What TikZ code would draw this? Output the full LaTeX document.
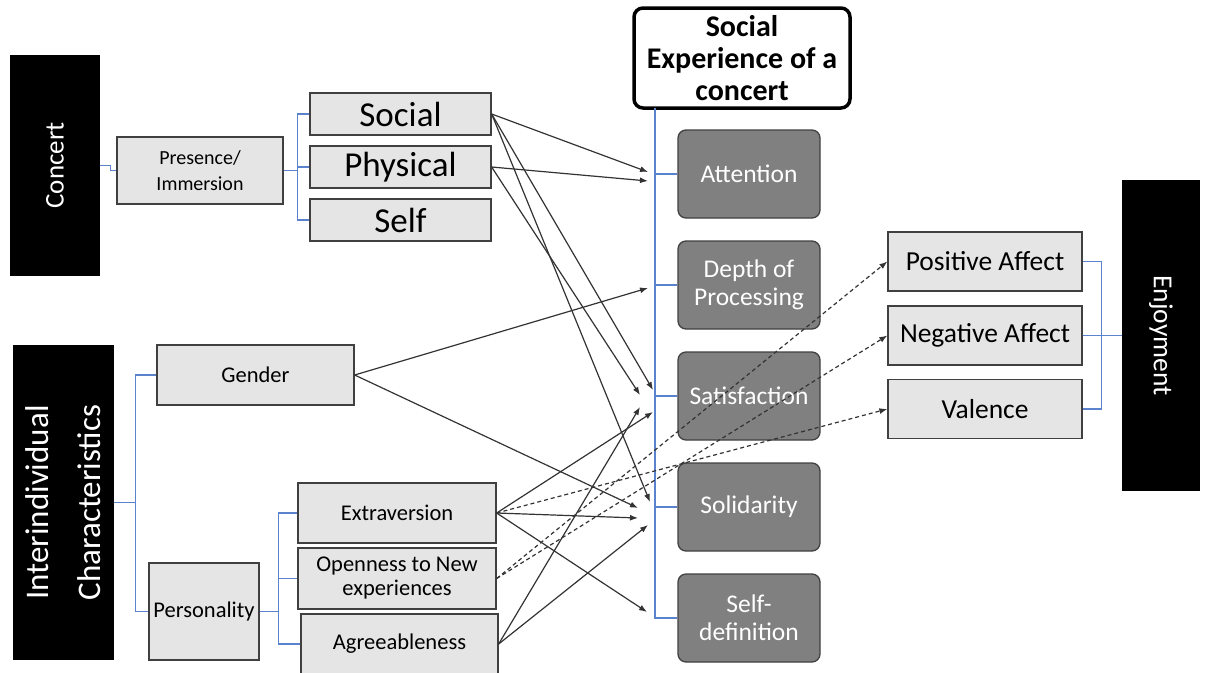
\documentclass[tikz,border=0pt]{standalone}
\usepackage{fontspec}
\setmainfont{Carlito}
\usetikzlibrary{arrows,arrows.meta,positioning,calc}
\definecolor{treeblue}{RGB}{90,130,205}

\begin{document}
\begin{tikzpicture}[x=1pt,y=-1pt]
        \tikzstyle{every node}=[inner sep=0pt,align=center,font=\fontsize{22.5}{24}\selectfont]
        \tikzstyle{lbox}=[draw=black!75,fill=black!10,line width=1.3pt]
        \tikzstyle{dbox}=[draw=black!75,fill=black!50,rounded corners=8pt,line width=1.3pt,text=white,minimum width=142,minimum height=88,font=\fontsize{25.5}{28}\selectfont]
        \tikzstyle{bbox}=[fill=black,text=white]
        \tikzstyle{tree}=[draw=treeblue,line width=1.3pt]
        \tikzstyle{arr}=[-{Latex[length=8pt,width=6pt]},draw=black!80,line width=1.2pt]
        \tikzstyle{darr}=[arr,dash pattern=on 4pt off 3pt]
        \clip (0,0) rectangle (1206,672);

        %%% Concert
        \node[bbox,rotate=90,minimum width=221,minimum height=90,font=\fontsize{27}{30}\selectfont] (concert) at (55,165.5) {Concert};
        \node[lbox,minimum width=166,minimum height=67,font=\fontsize{20}{26}\selectfont] (presence) at (200,170.5) {Presence/\\Immersion};
        \node[lbox,minimum width=181,minimum height=42,font=\fontsize{35}{36}\selectfont] (social) at (400.5,114) {Social};
        \node[lbox,minimum width=181,minimum height=42,font=\fontsize{35}{36}\selectfont] (physical) at (400.5,167) {Physical};
        \node[lbox,minimum width=181,minimum height=42,font=\fontsize{35}{36}\selectfont] (self) at (400.5,220) {Self};

        %%% Interindividual characteristics
        \node[bbox,rotate=90,minimum width=315,minimum height=101,font=\fontsize{33}{52}\selectfont] (inter) at (63.5,502.5) {Interindividual\\Characteristics};
        \node[lbox,minimum width=197,minimum height=60] (gender) at (255.5,375) {Gender};
        \node[lbox,minimum width=110,minimum height=97] (personality) at (204,611.5) {Personality};
        \node[lbox,minimum width=198,minimum height=60] (extra) at (397,513) {Extraversion};
        \node[lbox,minimum width=198,minimum height=61] (open) at (397,578.5) {Openness to New\\experiences};
        \node[lbox,minimum width=197,minimum height=60] (agree) at (399.5,644) {Agreeableness};

        %%% Social experience
        \node[draw=black,line width=3.5pt,rounded corners=9pt,fill=white,minimum width=216,minimum height=100,font=\bfseries\fontsize{30}{32}\selectfont] (title) at (742,58) {Social\\Experience of a\\concert};
        \node[dbox] (attention) at (749,174) {Attention};
        \node[dbox] (depth) at (749,285) {Depth of\\Processing};
        \node[dbox] (satisfaction) at (749,396) {Satisfaction};
        \node[dbox] (solidarity) at (749,507) {Solidarity};
        \node[dbox] (selfdef) at (749,618) {Self-\\definition};

        %%% Enjoyment
        \node[lbox,minimum width=194,minimum height=59,font=\fontsize{27.5}{30}\selectfont] (positive) at (985,261.5) {Positive Affect};
        \node[lbox,minimum width=194,minimum height=59,font=\fontsize{27.5}{30}\selectfont] (negative) at (985,335.5) {Negative Affect};
        \node[lbox,minimum width=194,minimum height=59,font=\fontsize{27.5}{30}\selectfont] (valence) at (985,409) {Valence};
        \node[bbox,rotate=-90,minimum width=311,minimum height=78,font=\fontsize{27.5}{30}\selectfont] (enjoy) at (1161,335.5) {Enjoyment};

        %%% blue tree lines
        \draw[tree] (concert.south) -- ++(10,0) |- (presence.west);
        \draw[tree] (presence.east) -- ++(14,0) |- (social.west);
        \draw[tree] (presence.east) -- ++(14,0) |- (physical.west);
        \draw[tree] (presence.east) -- ++(14,0) |- (self.west);
        \draw[tree] (inter.south) -- ++(21,0) |- (gender.west);
        \draw[tree] (inter.south) -- ++(21,0) |- (personality.west);
        \draw[tree] (personality.east) -- ++(19,0) |- (extra.west);
        \draw[tree] (personality.east) -- ++(19,0) |- (open.west);
        \draw[tree] (personality.east) -- ++(19,0) |- (agree.west);
        \coordinate (spinetop) at (655,108);
        \draw[tree] (spinetop) |- (selfdef.west);
        \foreach \n in {attention,depth,satisfaction,solidarity}
            \draw[tree] (spinetop |- \n.west) -- (\n.west);
        \draw[tree] (positive.east) -| ++(19,0) |- (valence.east);
        \draw[tree] (negative.east) -- (enjoy.south);

        %%% arrow ends
        \coordinate (att1) at (648,172);
        \coordinate (att2) at (648,181);
        \coordinate (dep1) at (648,288);
        \coordinate (sat1) at (640,395);
        \coordinate (sat2) at (653,390);
        \coordinate (sat3) at (640,407);
        \coordinate (sat4) at (653,412);
        \coordinate (sol1) at (650,502);
        \coordinate (sol2) at (638,508);
        \coordinate (sol3) at (638,518);
        \coordinate (sol4) at (648,525);
        \coordinate (def1) at (647,612);

        \draw[arr] (social.east) -- (att1);
        \draw[arr] (social.east) -- (sat2);
        \draw[arr] (social.east) -- (sol1);
        \draw[arr] (physical.east) -- (att2);
        \draw[arr] (physical.east) -- (sat1);
        \draw[arr] (gender.east) -- (dep1);
        \draw[arr] (gender.east) -- (sol2);
        \draw[arr] (extra.east) -- (sat4);
        \draw[arr] (extra.east) -- (sol3);
        \draw[arr] (extra.east) -- (def1);
        \draw[arr] (agree.east) -- (sat3);
        \draw[arr] (agree.east) -- (sol4);
        \draw[darr] (open.east) -- (positive.west);
        \draw[darr] (open.east) -- (negative.west);
        \draw[darr] (extra.east) -- (valence.west);
    \end{tikzpicture}
\end{document}
